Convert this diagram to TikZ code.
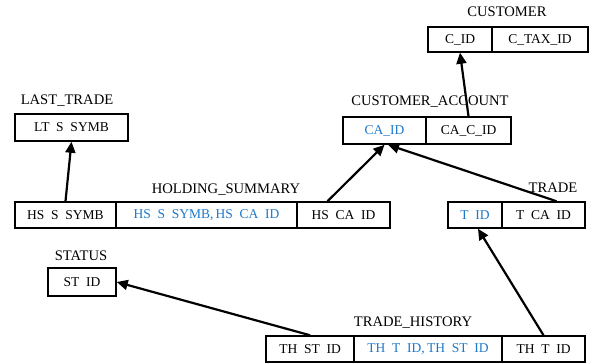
\documentclass[tikz,border=0pt]{standalone}
\usepackage{fontspec}
\setmainfont{Liberation Serif}
\usetikzlibrary{arrows.meta}
\definecolor{keyblue}{RGB}{30,120,200}
\newcommand{\gp}{\enspace}
\begin{document}
\begin{tikzpicture}[x=1pt,y=-1pt,
  cell/.style={draw,line width=1.5pt,inner sep=0pt,font=\fontsize{13.5}{15}\selectfont},
  key/.style={text=keyblue},
  tlabel/.style={inner sep=0pt,font=\fontsize{14.6}{16}\selectfont},
  fk/.style={line width=2.2pt,-{Triangle[length=11pt,width=10pt]}}]
\useasboundingbox (0,0) rectangle (592,364);
% CUSTOMER
\node[tlabel] (lcust) at (507,12) {CUSTOMER};
\node[cell,minimum width=64pt,minimum height=25pt] (cid) at (460,39.5) {C\_ID};
\node[cell,minimum width=96pt,minimum height=25pt] (ctax) at (540,39.5) {C\_TAX\_ID};
% CUSTOMER_ACCOUNT
\node[tlabel] (lca) at (430,102) {CUSTOMER\_ACCOUNT};
\node[cell,key,minimum width=83pt,minimum height=27pt] (caid) at (384.5,130.5) {CA\_ID};
\node[cell,minimum width=85pt,minimum height=27pt] (cacid) at (468.5,130.5) {CA\_C\_ID};
% LAST_TRADE
\node[tlabel] (llt) at (67,101) {LAST\_TRADE};
\node[cell,minimum width=113pt,minimum height=27pt] (lt) at (71.5,127.5) {LT\gp S\gp SYMB};
% HOLDING_SUMMARY
\node[tlabel] (lhs) at (226,190) {HOLDING\_SUMMARY};
\node[cell,minimum width=101pt,minimum height=26pt] (hs1) at (65.5,215) {HS\gp S\gp SYMB};
\node[cell,key,minimum width=181pt,minimum height=26pt] (hs2) at (206.5,215) {HS\gp S\gp SYMB,\,HS\gp CA\gp ID};
\node[cell,minimum width=93pt,minimum height=26pt] (hs3) at (343.5,215) {HS\gp CA\gp ID};
% TRADE
\node[tlabel] (ltr) at (553,188) {TRADE};
\node[cell,key,minimum width=54pt,minimum height=26pt] (t1) at (475,215) {T\gp ID};
\node[cell,minimum width=83pt,minimum height=26pt] (t2) at (543.5,215) {T\gp CA\gp ID};
% STATUS
\node[tlabel] (lst) at (81,256) {STATUS};
\node[cell,minimum width=68pt,minimum height=28pt] (st) at (82,282) {ST\gp ID};
% TRADE_HISTORY
\node[tlabel] (lth) at (413,323) {TRADE\_HISTORY};
\node[cell,minimum width=88pt,minimum height=26pt] (th1) at (310,349) {TH\gp ST\gp ID};
\node[cell,key,minimum width=148pt,minimum height=26pt] (th2) at (428,349) {TH\gp T\gp ID,\,TH\gp ST\gp ID};
\node[cell,minimum width=83pt,minimum height=26pt] (th3) at (543.5,349) {TH\gp T\gp ID};
% connectors
\draw[fk] (th1.north) -- (st.east);
\draw[fk] (hs1.north) -- (lt.south);
\draw[fk] ([xshift=-16pt]hs3.north) -- (caid.south);
\draw[fk] ([xshift=13pt]t2.north) -- ([xshift=3.5pt]caid.south);
\draw[fk] (cacid.north) -- (cid.south);
\draw[fk] (th3.north) -- ([xshift=3pt]t1.south);
\end{tikzpicture}
\end{document}
